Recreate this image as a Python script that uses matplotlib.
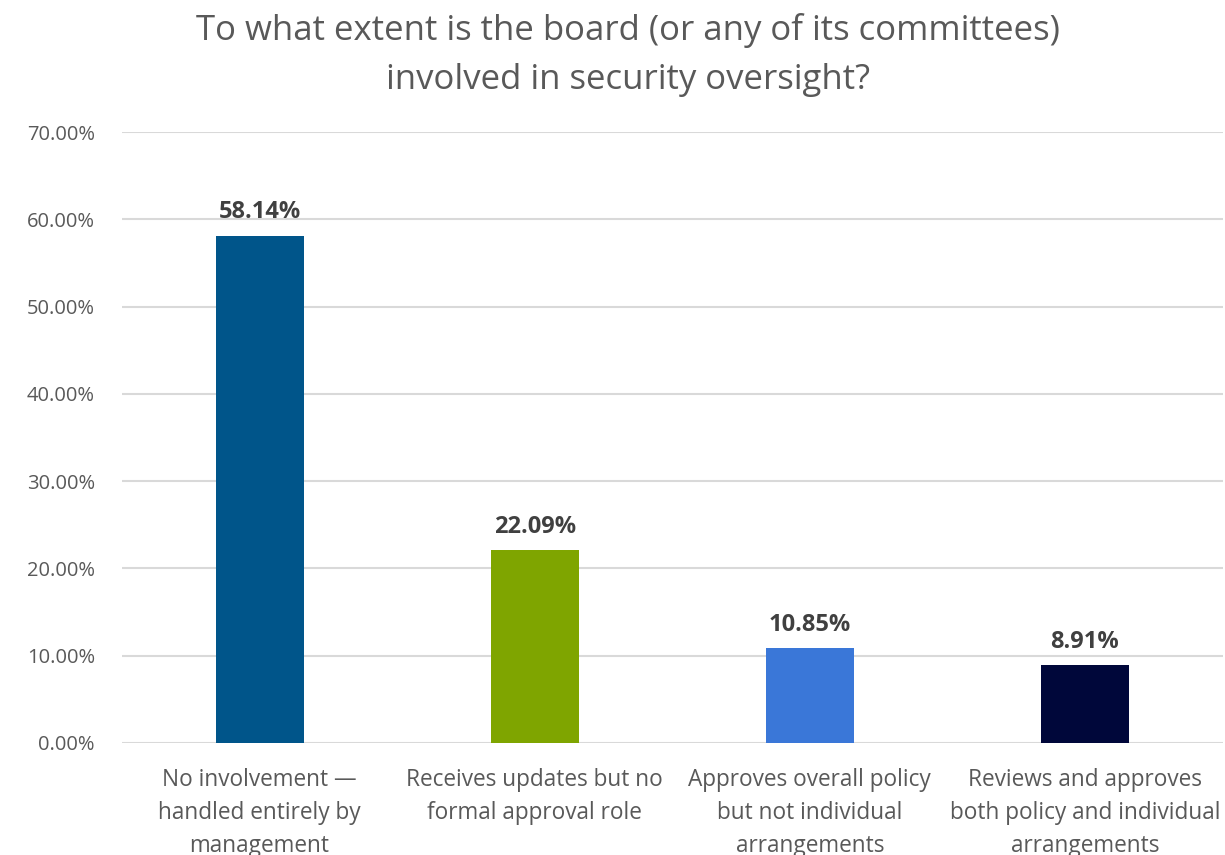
import matplotlib.pyplot as plt
from matplotlib.ticker import FuncFormatter

plt.rcParams['font.family'] = ['Open Sans', 'DejaVu Sans']

categories = [
    "No involvement \u2014\nhandled entirely by\nmanagement",
    "Receives updates but no\nformal approval role",
    "Approves overall policy\nbut not individual\narrangements",
    "Reviews and approves\nboth policy and individual\narrangements",
]
shares = [58.14, 22.09, 10.85, 8.91]
bar_colors = ["#00558A", "#7FA500", "#3A77D8", "#00073A"]
title = "To what extent is the board (or any of its committees)\ninvolved in security oversight?"

fig = plt.figure(figsize=(12.25, 8.55), dpi=100)
ax = fig.add_axes([0.0996, 0.131, 0.8984, 0.7146])

x = range(len(categories))
ax.bar(x, shares, width=0.32, color=bar_colors, zorder=3)

for xi, v in zip(x, shares):
    ax.text(xi, v + 1.3, f"{v:.2f}%", ha="center", va="bottom",
            fontsize=17, fontweight="bold", color="#404040")

ax.set_xlim(-0.5, len(categories) - 0.5)
ax.set_ylim(0, 70)
ax.set_yticks(range(0, 71, 10))
ax.yaxis.set_major_formatter(FuncFormatter(lambda v, _: f"{v:.2f}%"))
ax.grid(axis="y", color="#D9D9D9", linewidth=1.5, zorder=0)
ax.set_xticks(list(x))
ax.set_xticklabels(categories, fontsize=16.3, color="#595959", linespacing=1.5)
ax.tick_params(axis="y", labelsize=14.5, labelcolor="#595959", length=0, pad=19.5)
ax.tick_params(axis="x", length=0, pad=18)
for s in ax.spines.values():
    s.set_visible(False)

fig.text(0.513, 0.985, title, ha="center", va="top", fontsize=25,
         color="#595959", linespacing=1.6)

fig.savefig("out.png", dpi=100)
